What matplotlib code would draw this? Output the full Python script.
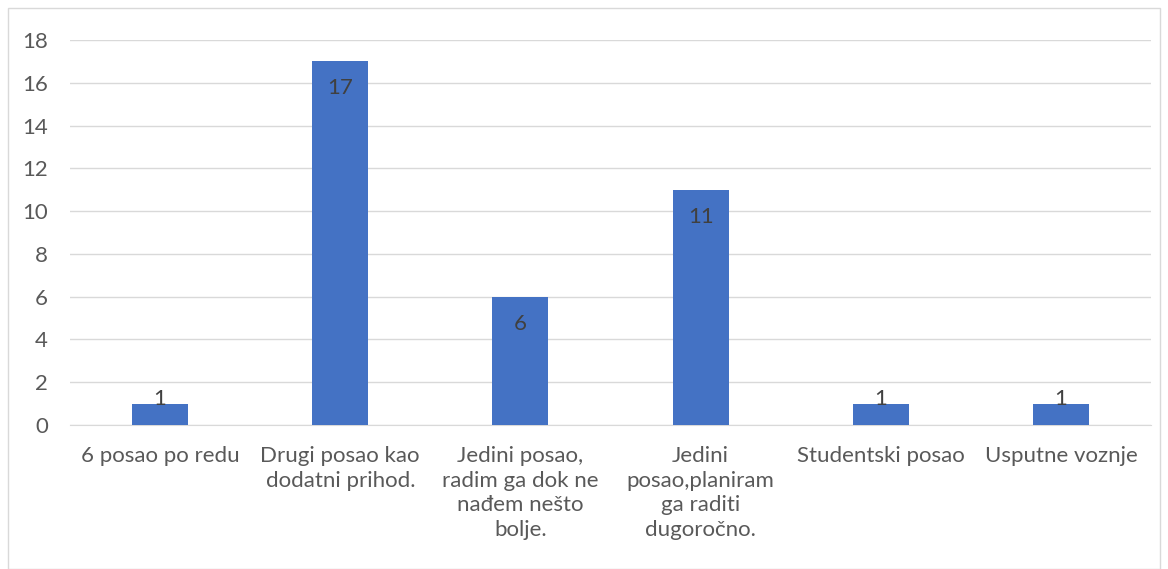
import matplotlib
matplotlib.use("Agg")
import matplotlib.pyplot as plt
from matplotlib.patches import Rectangle

categories = ["6 posao po redu", "Drugi posao kao\ndodatni prihod.",
              "Jedini posao,\nradim ga dok ne\nnađem nešto\nbolje.",
              "Jedini\nposao,planiram\nga raditi\ndugoročno.",
              "Studentski posao", "Usputne voznje"]
values = [1, 17, 6, 11, 1, 1]
yticks = [0, 2, 4, 6, 8, 10, 12, 14, 16, 18]

plt.rcParams['font.family'] = ['Lato', 'DejaVu Sans']
FS = 16

fig = plt.figure(figsize=(11.68, 5.69), dpi=100)
W, H = 1168, 569
ax = fig.add_axes([70 / W, 1 - 425 / H, (1151 - 70) / W, (425 - 40) / H])

x = list(range(len(categories)))
ax.bar(x, values, width=0.31, color="#4472C4", zorder=3)
ax.set_xlim(-0.5, len(categories) - 0.5)
ax.set_ylim(0, 18)
ax.set_yticks(yticks)
ax.set_xticks(x)
ax.set_xticklabels(categories, fontsize=FS, color="#595959", linespacing=1.3)
ax.tick_params(axis='y', labelsize=FS, labelcolor="#595959", length=0, pad=16)
ax.tick_params(axis='x', length=0, pad=15)
for lab in ax.get_yticklabels():
    lab.set_horizontalalignment('right')
ax.grid(axis='y', color="#d9d9d9", linewidth=1, zorder=0)
for s in ['top', 'right', 'left']:
    ax.spines[s].set_visible(False)
ax.spines['bottom'].set_color("#d9d9d9")

for xi, v in zip(x, values):
    ly = max(v - 1.26, 1.21)
    ax.text(xi, ly, str(v), ha='center', va='center', fontsize=FS, color="#404040", zorder=4)

fig.patches.append(Rectangle((8 / W, 0), (1160 - 8) / W, 1 - 8 / H, transform=fig.transFigure,
                             fill=False, edgecolor="#d9d9d9", linewidth=1))
fig.savefig("out.png", dpi=100)
